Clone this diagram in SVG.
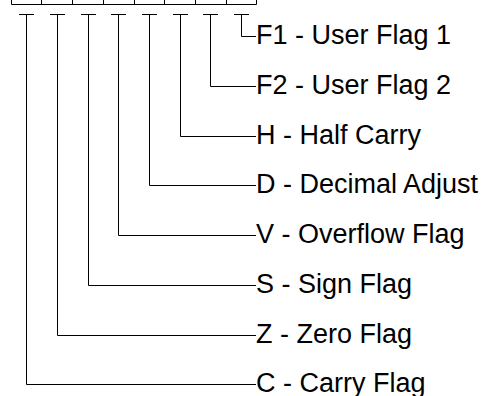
<svg xmlns="http://www.w3.org/2000/svg" width="482" height="396" viewBox="0 0 482 396">
<style>
.ln{stroke:#000;stroke-width:1;fill:none}
.lb{font-family:"Liberation Sans",Arial,sans-serif;font-size:27px;fill:#000}
</style>
<rect width="482" height="396" fill="#fff"/>
<g id="register">
<path class="ln" d="M11.5,-2 V4.5 H256.5 V-2 M41.5,-2 V4.5 M72.5,-2 V4.5 M103.5,-2 V4.5 M134.5,-2 V4.5 M164.5,-2 V4.5 M195.5,-2 V4.5 M226.5,-2 V4.5"/>
</g>
<g id="connectors">
<path class="ln" d="M234,14.5 H249 M241.5,14.5 V36.5 H256"/>
<path class="ln" d="M203,14.5 H218 M210.5,14.5 V86.5 H256"/>
<path class="ln" d="M173,14.5 H188 M180.5,14.5 V136.5 H256"/>
<path class="ln" d="M142,14.5 H157 M149.5,14.5 V185.5 H256"/>
<path class="ln" d="M111,14.5 H126 M118.5,14.5 V235.5 H256"/>
<path class="ln" d="M81,14.5 H96 M88.5,14.5 V285.5 H256"/>
<path class="ln" d="M50,14.5 H65 M57.5,14.5 V335.5 H256"/>
<path class="ln" d="M19,14.5 H34 M26.5,14.5 V384.5 H256"/>
</g>
<g id="f1"><text class="lb" x="256" y="43.5">F1 - User Flag 1</text></g>
<g id="f2"><text class="lb" x="256" y="93.5">F2 - User Flag 2</text></g>
<g id="h"><text class="lb" x="256" y="143.5">H - Half Carry</text></g>
<g id="d"><text class="lb" x="256" y="192.5">D - Decimal Adjust</text></g>
<g id="v"><text class="lb" x="256" y="242.5">V - Overflow Flag</text></g>
<g id="s"><text class="lb" x="256" y="292.5">S - Sign Flag</text></g>
<g id="z"><text class="lb" x="256" y="342.5">Z - Zero Flag</text></g>
<g id="c"><text class="lb" x="256" y="391.5">C - Carry Flag</text></g>
</svg>
